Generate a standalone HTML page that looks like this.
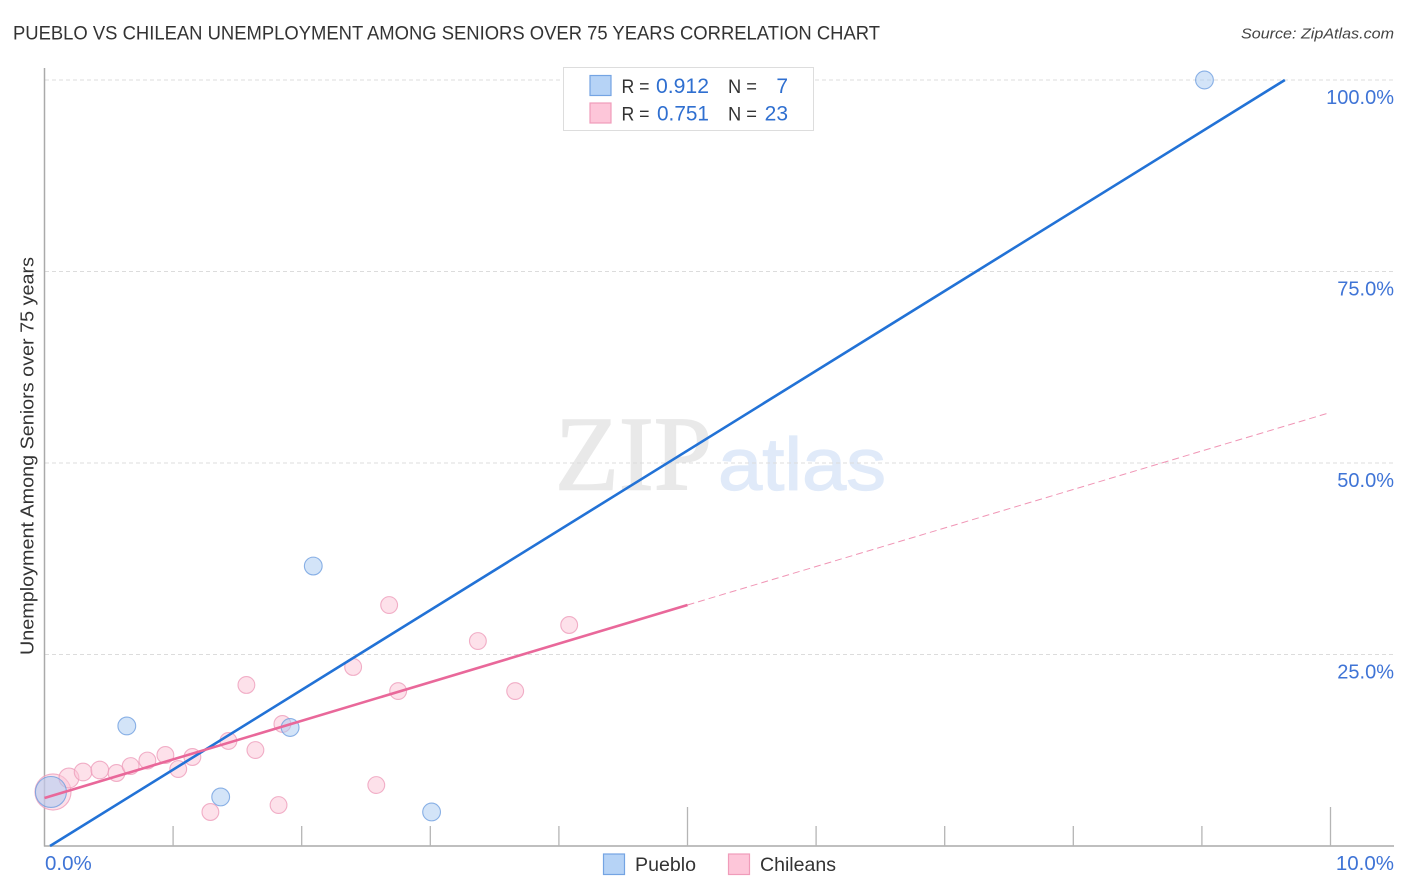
<!DOCTYPE html>
<html lang="en">
<head>
<meta charset="utf-8">
<title>Pueblo vs Chilean Unemployment Among Seniors Over 75 Years Correlation Chart</title>
<style>
html,body{margin:0;padding:0;background:#fff;width:1406px;height:892px;overflow:hidden}
svg{display:block;font-family:"Liberation Sans",sans-serif}
</style>
</head>
<body>
<svg id="chart" width="1406" height="892" viewBox="0 0 1406 892">
  <text x="13" y="39.5" font-size="19" fill="#333" textLength="867" lengthAdjust="spacingAndGlyphs">PUEBLO VS CHILEAN UNEMPLOYMENT AMONG SENIORS OVER 75 YEARS CORRELATION CHART</text>
  <text x="1241" y="38.5" font-size="15" font-style="italic" fill="#444" textLength="153" lengthAdjust="spacingAndGlyphs">Source: ZipAtlas.com</text>
  <g id="watermark">
    <text x="555" y="489.5" font-family="'Liberation Serif',serif" font-size="106" fill="#e9e9e9" stroke="#e9e9e9" stroke-width="1.5" textLength="157" lengthAdjust="spacingAndGlyphs">ZIP</text>
    <text x="718" y="490" font-size="74" fill="#e0eaf9" stroke="#e0eaf9" stroke-width="1.2" textLength="168" lengthAdjust="spacingAndGlyphs">atlas</text>
  </g>
  <g id="grid"></g>
  <g id="axes"></g>
  <g id="points"></g>
  <g id="trends"></g>
  <g id="labels"></g>
  <text transform="translate(33.5,456) rotate(-90)" text-anchor="middle" font-size="18.5" fill="#333" textLength="398" lengthAdjust="spacingAndGlyphs">Unemployment Among Seniors over 75 years</text>

  <g>
    <rect x="563.5" y="67.5" width="250" height="63" fill="#fff" stroke="#ddd" stroke-width="1"/>
    <rect x="590" y="75.5" width="21" height="20" fill="#b6d3f6" stroke="#74a4e3" stroke-width="1.2"/>
    <rect x="590" y="103" width="21" height="20" fill="#fdc6d9" stroke="#f09cba" stroke-width="1.2"/>
    <text x="621.5" y="93" font-size="19.5" fill="#333" textLength="28" lengthAdjust="spacingAndGlyphs">R =</text>
    <text x="656" y="93" font-size="21" fill="#2f6fd0" textLength="53" lengthAdjust="spacingAndGlyphs">0.912</text>
    <text x="728" y="93" font-size="19.5" fill="#333" textLength="29" lengthAdjust="spacingAndGlyphs">N =</text>
    <text x="788" y="93" font-size="21" fill="#2f6fd0" text-anchor="end">7</text>
    <text x="621.5" y="120.5" font-size="19.5" fill="#333" textLength="28" lengthAdjust="spacingAndGlyphs">R =</text>
    <text x="657" y="120.5" font-size="21" fill="#2f6fd0" textLength="52" lengthAdjust="spacingAndGlyphs">0.751</text>
    <text x="728" y="120.5" font-size="19.5" fill="#333" textLength="29" lengthAdjust="spacingAndGlyphs">N =</text>
    <text x="788" y="120.5" font-size="21" fill="#2f6fd0" text-anchor="end">23</text>
  </g>

  <g>
    <g>
      <rect x="603.5" y="854" width="21" height="20.5" fill="#b6d3f6" stroke="#74a4e3" stroke-width="1.2"/>
      <text x="635" y="871" font-size="19.5" fill="#333" textLength="61" lengthAdjust="spacingAndGlyphs">Pueblo</text>
    </g>
    <g>
      <rect x="728.5" y="854" width="21" height="20.5" fill="#fdc6d9" stroke="#f09cba" stroke-width="1.2"/>
      <text x="760" y="871" font-size="19.5" fill="#333" textLength="76" lengthAdjust="spacingAndGlyphs">Chileans</text>
    </g>
  </g>
</svg>
<script>
// Chart data (percent units)
const puebloX = [0.05, 0.64, 1.37, 1.91, 2.09, 3.01, 9.02];
const puebloY = [7.05, 15.67, 6.40, 15.47, 36.55, 4.44, 100];
const puebloWeight = [3.4, 1.12, 1.12, 1.12, 1.12, 1.12, 1.12];
const chileansX = [0.066, 0.19, 0.30, 0.43, 0.56, 0.67, 0.80, 0.94, 1.04, 1.15, 1.29, 1.43, 1.57, 1.64, 1.82, 1.85, 2.40, 2.58, 2.68, 2.75, 3.37, 3.66, 4.08];
const chileansY = [7.05, 8.88, 9.66, 9.92, 9.53, 10.44, 11.16, 11.88, 10.05, 11.62, 4.44, 13.71, 21.02, 12.53, 5.35, 15.93, 23.37, 7.96, 31.46, 20.23, 26.76, 20.23, 28.85];
const chileansWeight = [4.6, 1.4, 1.1, 1.1, 1, 1, 1, 1, 1, 1, 1, 1, 1, 1, 1, 1, 1, 1, 1, 1, 1, 1, 1];
const puebloTrendX = [0.043, 9.645];
const puebloTrendY = [0, 100];
const chileansTrendX = [0, 5.0];
const chileansTrendY = [6.27, 31.46];
const chileansProjectionX = [5.0, 9.98];
const chileansProjectionY = [31.46, 56.5];
const xTicks = [1, 2, 3, 4, 5, 6, 7, 8, 9, 10];
const xMajorTicks = [5, 10];
const yGridValues = [25, 50, 75, 100];
const yTickLabels = ['25.0%', '50.0%', '75.0%', '100.0%'];
const xEdgeValues = [0, 10];
const xEdgeLabels = ['0.0%', '10.0%'];

// Axis functions
function xScale(v) { return 44.5 + v * 128.6; }
function yScale(v) { return 846 - v * 7.66; }
function rScale(w) { return 8.4 * Math.sqrt(w); }

const NS = 'http://www.w3.org/2000/svg';
function make(parent, tag, attrs) {
  const el = document.createElementNS(NS, tag);
  for (const k in attrs) el.setAttribute(k, attrs[k]);
  parent.appendChild(el);
  return el;
}
const gridG = document.getElementById('grid');
const axesG = document.getElementById('axes');
const pointsG = document.getElementById('points');
const trendsG = document.getElementById('trends');
const labelsG = document.getElementById('labels');

yGridValues.forEach(function (v, i) {
  const line = make(gridG, 'line', { x1: 45, x2: 1394, y1: yScale(v), y2: yScale(v), stroke: '#dcdcdc', 'stroke-width': 1, 'stroke-dasharray': '4 3' });
  
  
  const label = make(labelsG, 'text', { x: 1394, y: yScale(v) + 24, 'text-anchor': 'end', 'font-size': 20, fill: '#3f74d6' });
  label.textContent = yTickLabels[i];
  
  
});

const yAxis = make(axesG, 'line', { x1: 44.5, x2: 44.5, y1: 68, y2: 846.5, stroke: '#aaa', 'stroke-width': 1.5 });


const xAxis = make(axesG, 'line', { x1: 44, x2: 1394, y1: 846, y2: 846, stroke: '#aaa', 'stroke-width': 1.5 });


xTicks.forEach(function (v) {
  const top = xMajorTicks.indexOf(v) >= 0 ? 807 : 826;
  const tick = make(axesG, 'line', { x1: xScale(v), x2: xScale(v), y1: top, y2: 846, stroke: '#b5b5b5', 'stroke-width': 1.3 });
  
  
});
xEdgeValues.forEach(function (v, i) {
  const label = make(labelsG, 'text', { x: i === 0 ? xScale(v) + 0.5 : 1394, y: 870, 'text-anchor': i === 0 ? 'start' : 'end', 'font-size': 20.5, fill: '#3f74d6' });
  label.textContent = xEdgeLabels[i];
  
  
});

chileansX.forEach(function (v, i) {
  const c = make(pointsG, 'circle', { cx: xScale(v), cy: yScale(chileansY[i]), r: rScale(chileansWeight[i]), fill: '#fbc3d6', 'fill-opacity': 0.5, stroke: '#ee9cba', 'stroke-opacity': 0.8, 'stroke-width': 1.1 });
  
  
});
puebloX.forEach(function (v, i) {
  const c = make(pointsG, 'circle', { cx: xScale(v), cy: yScale(puebloY[i]), r: rScale(puebloWeight[i]), fill: '#a8c9f2', 'fill-opacity': 0.5, stroke: '#6f9fe0', 'stroke-opacity': 0.8, 'stroke-width': 1.1 });
  
  
});

const projection = make(trendsG, 'line', { x1: xScale(chileansProjectionX[0]), y1: yScale(chileansProjectionY[0]), x2: xScale(chileansProjectionX[1]), y2: yScale(chileansProjectionY[1]), stroke: '#ec7aa3', 'stroke-width': 1, 'stroke-dasharray': '7 4', 'stroke-opacity': 0.8 });


const blueTrend = make(trendsG, 'line', { x1: xScale(puebloTrendX[0]), y1: yScale(puebloTrendY[0]), x2: xScale(puebloTrendX[1]), y2: yScale(puebloTrendY[1]), stroke: '#2272d6', 'stroke-width': 2.6 });


const pinkTrend = make(trendsG, 'line', { x1: xScale(chileansTrendX[0]), y1: yScale(chileansTrendY[0]), x2: xScale(chileansTrendX[1]), y2: yScale(chileansTrendY[1]), stroke: '#e9689a', 'stroke-width': 2.6 });


</script>
</body>
</html>
